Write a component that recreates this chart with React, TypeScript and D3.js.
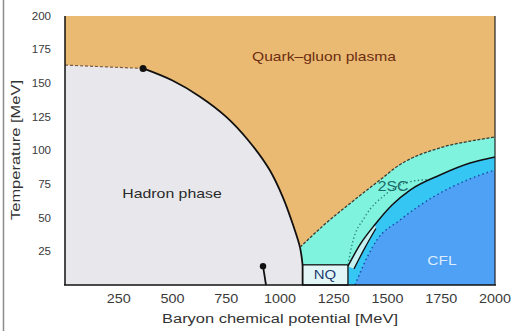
import React from "react";
import * as d3 from "d3";

// Axis ticks
const muTicks = [250, 500, 750, 1000, 1250, 1500, 1750, 2000];
const tempTicks = [25, 50, 75, 100, 125, 150, 175, 200];

// Phase boundaries as [mu (MeV), T (MeV)]
const crossoverLine: [number, number][] = [[0, 163.5], [363, 161]];
const criticalPoint: [number, number] = [363, 161];
const hadronBoundary: [number, number][] = [
  [363, 161], [500, 152], [628, 140], [750, 125], [850, 108],
  [950, 86], [1014, 65], [1060, 45], [1093, 28], [1105, 15],
];
const hadronBoundaryFoot: [number, number][] = [[1105, 15], [1105, 0]];
const nuclearLine: [number, number][] = [[921, 14], [929, 6], [935, 0]];
const nuclearPoint: [number, number] = [921, 14];
const qgpBoundary: [number, number][] = [
  [1093, 28], [1200, 44], [1360, 65], [1480, 80], [1535, 87],
  [1745, 102], [1885, 107], [2000, 110],
];
const cflBoundary: [number, number][] = [
  [1316, 14], [1372, 30], [1442, 45], [1521, 59.5], [1605, 70.6],
  [1744, 81.8], [1884, 90.7], [2000, 95.2],
];
const twoScDotted: [number, number][] = [
  [1316, 15], [1335, 30], [1395, 50.6], [1488, 67], [1581, 75.8], [1690, 78.5],
];
const bandInner: [number, number][] = [[1316, 14], [1372, 30], [1442, 45]];
const bandOuter: [number, number][] = [[1344, 12], [1396, 28], [1446, 42]];
const cflDotted: [number, number][] = [
  [1349, 0], [1372, 8.9], [1451, 33.5], [1558, 48.3], [1712, 65.4],
  [1870, 78], [2000, 85.5],
];
const nqBox = { muMin: 1105, muMax: 1316, tMax: 15 };

const x = d3.scaleLinear().domain([0, 2000]).range([65, 495]);
const y = d3.scaleLinear().domain([0, 200]).range([285, 16]);

const FONT = "'Liberation Sans', Arial, Helvetica, sans-serif";

const COLORS = {
  qgp: "#ebba72",
  hadron: "#e8e8ec",
  twoSC: "#80f3df",
  cyan: "#36c6f4",
  cfl: "#4ea1f5",
  nq: "#e2f6f8",
  band: "#c6f1f3",
};

type LabelProps = {
  x: number;
  y: number;
  size: number;
  sx?: number;
  fill: string;
  anchor?: "start" | "middle" | "end";
  rotate?: number;
  children: React.ReactNode;
};

function Label({ x: lx, y: ly, size, sx = 1, fill, anchor = "middle", rotate = 0, children }: LabelProps) {
  return (
    <g transform={`translate(${lx},${ly}) rotate(${rotate}) scale(${sx},1)`}>
      <text textAnchor={anchor} dy="0.35em" fontSize={size} fill={fill} fontFamily={FONT}>
        {children}
      </text>
    </g>
  );
}

export default function App() {
  const px = (p: [number, number]) => x(p[0]);
  const py = (p: [number, number]) => y(p[1]);

  const smooth = d3.line<[number, number]>().x(px).y(py).curve(d3.curveCatmullRom.alpha(0.5));
  const straight = d3.line<[number, number]>().x(px).y(py);
  const mono = d3.line<[number, number]>().x(px).y(py).curve(d3.curveMonotoneX);
  const monoArea = d3
    .area<[number, number]>()
    .x(px)
    .y0(y(0))
    .y1(py)
    .curve(d3.curveMonotoneX);

  // Hadron region: left edge, crossover, first-order line, foot to the axis
  const hadronCurve = smooth(hadronBoundary) as string;
  const hadronPath =
    `M${x(0)},${y(0)} L${x(crossoverLine[0][0])},${y(crossoverLine[0][1])} ` +
    hadronCurve.replace(/^M/, "L") +
    ` L${x(1105)},${y(0)} Z`;

  // Narrow band along the lower part of the CFL boundary
  const bandPath =
    (smooth(bandInner) as string) +
    (smooth([...bandOuter].reverse()) as string).replace(/^M/, "L") +
    " Z";

  return (
    <svg
      width={513}
      height={331}
      style={{ position: "absolute", left: 0, top: 0, background: "#fff" }}
    >
      {/* page frame line */}
      <line x1={3.5} x2={3.5} y1={0} y2={331} stroke="#8c8c8c" strokeWidth={1.5} />

      {/* regions */}
      <rect x={x(0)} y={y(200)} width={x(2000) - x(0)} height={y(0) - y(200)} fill={COLORS.qgp} />
      <path d={monoArea(qgpBoundary) as string} fill={COLORS.twoSC} />
      <path d={monoArea(cflBoundary) as string} fill={COLORS.cyan} />
      <path d={monoArea(cflDotted) as string} fill={COLORS.cfl} />
      <path d={bandPath} fill={COLORS.band} />
      <path d={hadronPath} fill={COLORS.hadron} />
      <rect
        x={x(nqBox.muMin)}
        y={y(nqBox.tMax)}
        width={x(nqBox.muMax) - x(nqBox.muMin)}
        height={y(0) - y(nqBox.tMax)}
        fill={COLORS.nq}
        stroke="#111"
        strokeWidth={1.3}
      />

      {/* boundaries */}
      <path d={straight(crossoverLine) as string} fill="none" stroke="#7a5a44" strokeWidth={1.2} strokeDasharray="3,2" />
      <path d={hadronCurve} fill="none" stroke="#111" strokeWidth={1.8} />
      <path d={straight(hadronBoundaryFoot) as string} fill="none" stroke="#111" strokeWidth={1.6} />
      <path d={mono(qgpBoundary) as string} fill="none" stroke="#3a3a30" strokeWidth={1.3} strokeDasharray="3,1.6" />
      <path d={mono(twoScDotted) as string} fill="none" stroke="#2c7f76" strokeWidth={1.3} strokeDasharray="1.4,2.4" />
      <path d={mono(cflBoundary) as string} fill="none" stroke="#111" strokeWidth={1.5} />
      <path d={smooth(bandOuter) as string} fill="none" stroke="#111" strokeWidth={1.3} />
      <path d={mono(cflDotted) as string} fill="none" stroke="#1c4fa8" strokeWidth={1.5} strokeDasharray="1.5,3" />
      <path d={smooth(nuclearLine) as string} fill="none" stroke="#111" strokeWidth={1.8} />
      <circle cx={px(nuclearPoint)} cy={py(nuclearPoint)} r={3.2} fill="#111" />
      <circle cx={px(criticalPoint)} cy={py(criticalPoint)} r={3.5} fill="#111" />

      {/* phase labels */}
      <Label x={324} y={57} size={12.5} sx={1.25} fill="#6b2d12">Quark–gluon plasma</Label>
      <Label x={172} y={193} size={13} sx={1.22} fill="#2a2a2a">Hadron phase</Label>
      <Label x={393} y={186} size={15} sx={1.05} fill="#1d6b66">2SC</Label>
      <Label x={442} y={260} size={13.5} sx={1.15} fill="#dcecff">CFL</Label>
      <Label x={325} y={274} size={13} sx={1.15} fill="#1e3a6e">NQ</Label>

      {/* axes */}
      <line x1={x(0)} x2={x(0)} y1={y(200)} y2={y(0)} stroke="#111" strokeWidth={1.5} />
      <line x1={x(0) - 1} x2={x(2000) + 1} y1={y(0)} y2={y(0)} stroke="#111" strokeWidth={1.5} />
      <line x1={x(2000)} x2={x(2000)} y1={y(200)} y2={y(0)} stroke="#222" strokeWidth={1.2} />

      {tempTicks.map((t) => (
        <Label key={t} x={51} y={y(t)} size={11} sx={1.05} anchor="end" fill="#3a3a3a">
          {t}
        </Label>
      ))}
      {muTicks.map((m) => (
        <Label key={m} x={x(m)} y={299} size={12.5} sx={1.15} fill="#3a3a3a">
          {m}
        </Label>
      ))}

      <Label x={280} y={318} size={13.5} sx={1.22} fill="#333">Baryon chemical potential [MeV]</Label>
      <Label x={15} y={150} size={13.5} sx={1.22} rotate={-90} fill="#333">Temperature [MeV]</Label>
    </svg>
  );
}
